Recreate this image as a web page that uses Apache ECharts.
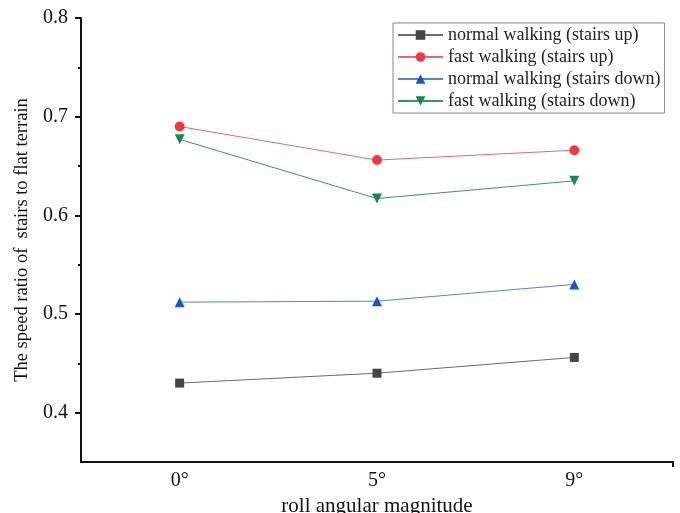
<!DOCTYPE html>
<html><head><meta charset="utf-8">
<script src="https://cdn.jsdelivr.net/npm/echarts@6/dist/echarts.min.js"></script>
<style>html,body{margin:0;padding:0;background:#fff}#c{width:680px;height:513px}</style>
</head><body><div id="c"></div>
<script>
const categories = ['0°', '5°', '9°'];
const normalUp = [0.430, 0.440, 0.456];
const fastUp = [0.690, 0.656, 0.666];
const normalDown = [0.512, 0.513, 0.530];
const fastDown = [0.677, 0.617, 0.635];
const yMajorTicks = [0.4, 0.5, 0.6, 0.7, 0.8];
const yMinorTicks = [0.45, 0.55, 0.65, 0.75];

const font = 'Liberation Serif';
const chart = echarts.init(document.getElementById('c'));
function ser(name, data, symbol, mColor, lColor, size) {
  return {
    name, type: 'line', data, symbol, symbolSize: size,
    itemStyle: { color: mColor },
    lineStyle: { color: lColor, width: 1 },
    emphasis: { disabled: true }
  };
}
chart.setOption({
  animation: false,
  grid: { left: 81, right: 7, top: 18, bottom: 51, containLabel: false, outerBoundsMode: 'none' },
  legend: {
    orient: 'vertical', left: 393, top: 23,
    itemWidth: 45, itemHeight: 12, itemGap: 4,
    padding: [3, 4, 3, 4],
    borderColor: '#888', borderWidth: 1,
    textStyle: { fontFamily: font, fontSize: 18, color: '#222' },
    data: ['normal walking (stairs up)', 'fast walking (stairs up)', 'normal walking (stairs down)', 'fast walking (stairs down)']
  },
  xAxis: [{
    type: 'category', data: categories, boundaryGap: true,
    name: 'roll angular magnitude', nameLocation: 'middle', nameGap: 29,
    nameTextStyle: { fontFamily: font, fontSize: 21, color: '#111' },
    axisLine: { lineStyle: { color: '#111', width: 2 } },
    axisTick: { alignWithLabel: true, length: 5, lineStyle: { color: '#111', width: 2 } },
    axisLabel: { fontFamily: font, fontSize: 20, color: '#111', margin: 9 },
    splitLine: { show: false }
  }, {
    type: 'value', min: 0, max: 1, position: 'bottom',
    axisLine: { show: false },
    axisTick: { show: true, customValues: [1], length: 5, lineStyle: { color: '#111', width: 2 } },
    axisLabel: { show: false }, splitLine: { show: false }
  }],
  yAxis: [{
    type: 'value', min: 0.35, max: 0.8,
    name: 'The speed ratio of  stairs to flat terrain', nameLocation: 'middle', nameGap: 45,
    nameTextStyle: { fontFamily: font, fontSize: 18.5, color: '#111' },
    axisLine: { show: true, lineStyle: { color: '#111', width: 2 } },
    axisTick: { show: true, customValues: yMajorTicks, length: 6, lineStyle: { color: '#111', width: 2 } },
    axisLabel: { customValues: yMajorTicks, fontFamily: font, fontSize: 20, color: '#111', margin: 13,
      formatter: v => v.toFixed(1) },
    splitLine: { show: false }
  }, {
    type: 'value', min: 0.35, max: 0.8, position: 'left',
    axisLine: { show: false },
    axisTick: { show: true, customValues: yMinorTicks, length: 3, lineStyle: { color: '#111', width: 2 } },
    axisLabel: { show: false }, splitLine: { show: false }
  }],
  series: [
    ser('normal walking (stairs up)', normalUp, 'rect', '#454545', '#6a6a6a', 9),
    ser('fast walking (stairs up)', fastUp, 'circle', '#ee3b3f', '#e36a6e', 10),
    ser('normal walking (stairs down)', normalDown, 'triangle', '#1656c8', '#4f86cc', 10),
    ser('fast walking (stairs down)', fastDown, 'path://M0,0 L10,0 L5,9 Z', '#168a4e', '#3a9468', 10)
  ]
});
</script></body></html>
